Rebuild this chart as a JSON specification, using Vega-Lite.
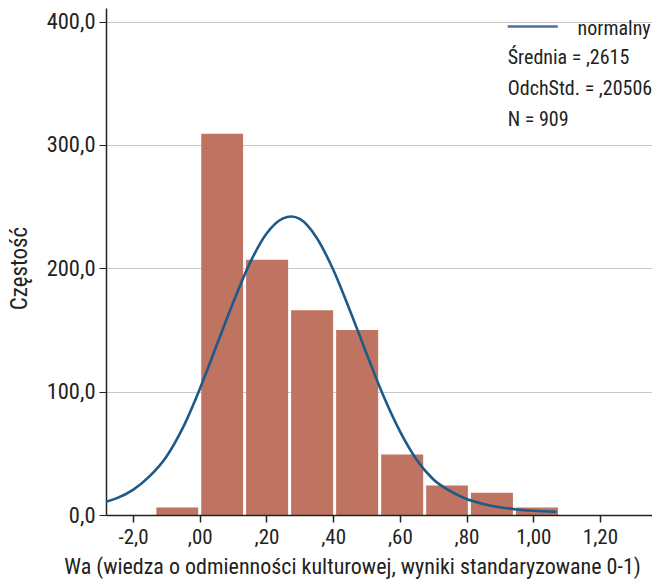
{
  "$schema": "https://vega.github.io/schema/vega-lite/v6.json",
  "width": 546,
  "height": 507,
  "autosize": {"type": "none"},
  "padding": {"left": 106, "top": 8, "right": 0, "bottom": 71},
  "background": "white",
  "config": {
    "view": {"stroke": null},
    "font": "Roboto Condensed, Liberation Sans",
    "text": {"font": "Roboto Condensed, Liberation Sans"}
  },
  "datasets": {
    "bins": [
      {"bin_start": -0.136, "bin_end": -0.0015, "count": 6},
      {"bin_start": -0.0015, "bin_end": 0.133, "count": 309},
      {"bin_start": 0.133, "bin_end": 0.268, "count": 207},
      {"bin_start": 0.268, "bin_end": 0.403, "count": 166},
      {"bin_start": 0.403, "bin_end": 0.538, "count": 150},
      {"bin_start": 0.538, "bin_end": 0.673, "count": 49},
      {"bin_start": 0.673, "bin_end": 0.807, "count": 24},
      {"bin_start": 0.807, "bin_end": 0.942, "count": 18},
      {"bin_start": 0.942, "bin_end": 1.077, "count": 6}
    ],
    "curve": [
      {"v": -0.281, "n": 10.8},
      {"v": -0.25, "n": 13.5},
      {"v": -0.2, "n": 20.4},
      {"v": -0.15, "n": 31.5},
      {"v": -0.1, "n": 47.3},
      {"v": -0.05, "n": 71},
      {"v": 0.0, "n": 102},
      {"v": 0.05, "n": 137},
      {"v": 0.1, "n": 172},
      {"v": 0.15, "n": 204},
      {"v": 0.2, "n": 228},
      {"v": 0.25, "n": 240.5},
      {"v": 0.275, "n": 242},
      {"v": 0.3, "n": 240},
      {"v": 0.35, "n": 225},
      {"v": 0.4, "n": 199},
      {"v": 0.45, "n": 166},
      {"v": 0.5, "n": 131},
      {"v": 0.55, "n": 97},
      {"v": 0.6, "n": 68},
      {"v": 0.65, "n": 45},
      {"v": 0.7, "n": 29},
      {"v": 0.75, "n": 19.5},
      {"v": 0.8, "n": 13},
      {"v": 0.85, "n": 9},
      {"v": 0.9, "n": 6.3},
      {"v": 0.95, "n": 4.5},
      {"v": 1.0, "n": 3.4},
      {"v": 1.07, "n": 2.5}
    ],
    "legend": [{"name": "normalny"}],
    "stats": [{"lines": ["Średnia = ,2615", "OdchStd. = ,20506", "N = 909"]}]
  },
  "layer": [
    {
      "data": {"name": "bins"},
      "mark": {"type": "bar", "color": "#bf7461", "binSpacing": 3},
      "encoding": {
        "x": {
          "field": "bin_start",
          "type": "quantitative",
          "bin": "binned",
          "scale": {"domain": [-0.281, 1.356], "nice": false, "zero": false},
          "axis": {
            "values": [-0.2, 0, 0.2, 0.4, 0.6, 0.8, 1, 1.2],
            "labelExpr": "datum.value < -0.1 ? '-2,0' : (abs(datum.value) < 0.99 ? replace(format(datum.value, '.2f'), '0.', ',') : replace(format(datum.value, '.2f'), '.', ','))",
            "title": "Wa (wiedza o odmienności kulturowej, wyniki standaryzowane 0-1)",
            "grid": false,
            "zindex": 1,
            "domainColor": "#222222",
            "domainWidth": 1.5,
            "tickColor": "#222222",
            "tickWidth": 1.5,
            "tickSize": 7,
            "labelFontSize": 21,
            "labelColor": "#222222",
            "labelBaseline": "alphabetic",
            "labelPadding": 21,
            "labelFlush": false,
            "labelOverlap": false,
            "titleFontSize": 22,
            "titleFontWeight": "normal",
            "titleColor": "#222222",
            "titleX": 246,
            "titleY": 58,
            "titleBaseline": "alphabetic",
            "titleAlign": "center"
          }
        },
        "x2": {"field": "bin_end"},
        "y": {
          "field": "count",
          "type": "quantitative",
          "scale": {"domain": [0, 411], "nice": false},
          "axis": {
            "values": [0, 100, 200, 300, 400],
            "labelExpr": "replace(format(datum.value, '.1f'), '.', ',')",
            "title": "Częstość",
            "grid": true,
            "gridColor": "#c8c8c8",
            "gridWidth": 1,
            "domainColor": "#222222",
            "domainWidth": 1.5,
            "tickColor": "#222222",
            "tickWidth": 1,
            "tickSize": 7,
            "labelFontSize": 22.5,
            "labelColor": "#222222",
            "labelPadding": 4,
            "labelFlush": false,
            "labelOverlap": false,
            "titleFontSize": 23,
            "titleFontWeight": "normal",
            "titleColor": "#222222",
            "titleAngle": 270,
            "titleX": -80,
            "titleY": 260,
            "titleBaseline": "alphabetic",
            "titleAlign": "center"
          }
        }
      }
    },
    {
      "data": {"name": "curve"},
      "mark": {"type": "line", "color": "#1d5a8a", "strokeWidth": 2.6, "interpolate": "monotone"},
      "encoding": {
        "x": {"field": "v", "type": "quantitative"},
        "y": {"field": "n", "type": "quantitative"}
      }
    },
    {
      "data": {"name": "legend"},
      "mark": {"type": "rule", "color": "#4a6f9c", "strokeWidth": 2.6},
      "encoding": {
        "x": {"datum": 0.9235, "type": "quantitative"},
        "x2": {"datum": 1.0735},
        "y": {"datum": 396, "type": "quantitative"}
      }
    },
    {
      "data": {"name": "legend"},
      "mark": {"type": "text", "align": "left", "baseline": "alphabetic", "fontSize": 20, "color": "#222222"},
      "encoding": {
        "x": {"datum": 1.133, "type": "quantitative"},
        "y": {"datum": 389, "type": "quantitative"},
        "text": {"field": "name", "type": "nominal"}
      }
    },
    {
      "data": {"name": "stats"},
      "mark": {"type": "text", "align": "left", "baseline": "middle", "fontSize": 20, "lineHeight": 31, "color": "#222222"},
      "encoding": {
        "x": {"datum": 0.9235, "type": "quantitative"},
        "y": {"datum": 370.5, "type": "quantitative"},
        "text": {"field": "lines", "type": "nominal"}
      }
    }
  ]
}
